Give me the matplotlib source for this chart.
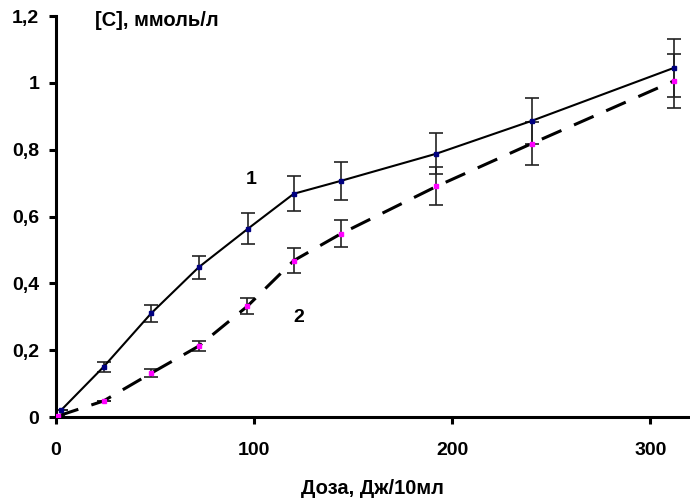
import matplotlib
matplotlib.use("Agg")
import matplotlib.pyplot as plt
from matplotlib.ticker import FuncFormatter

plt.rcParams['font.family'] = ['Liberation Sans', 'DejaVu Sans']

dose1 = [2.5, 24, 48, 72, 97, 120, 144, 192, 240, 312]
conc1 = [0.02, 0.15, 0.31, 0.448, 0.564, 0.668, 0.707, 0.788, 0.886, 1.045]
err1 = [0.0, 0.015, 0.025, 0.035, 0.045, 0.052, 0.057, 0.061, 0.07, 0.087]

dose2 = [1, 24, 48, 72, 96.5, 120, 144, 192, 240, 312]
conc2 = [0.003, 0.048, 0.131, 0.212, 0.331, 0.468, 0.549, 0.69, 0.818, 1.006]
err2 = [0.0, 0.0, 0.012, 0.015, 0.024, 0.038, 0.04, 0.057, 0.065, 0.08]

xticks = [0, 100, 200, 300]
yticks = [0, 0.2, 0.4, 0.6, 0.8, 1.0, 1.2]

fig = plt.figure(figsize=(6.9, 4.99), dpi=100)
ax = fig.add_axes([56/690, 82/499, 1 - 56/690, 401/499])

ax.errorbar(dose1, conc1, yerr=err1, fmt='none', ecolor='#222222', elinewidth=1.2,
            capsize=5, capthick=1.2, zorder=2)
ax.errorbar(dose2, conc2, yerr=err2, fmt='none', ecolor='#222222', elinewidth=1.2,
            capsize=5, capthick=1.2, zorder=2)
ax.plot(dose1, conc1, color='black', lw=1.5, zorder=3)
ax.plot(dose2, conc2, color='black', lw=2.2, dashes=(7, 4.5), zorder=3)
ax.plot(dose1, conc1, 's', color='#000080', ms=3, mec='#000080', zorder=4)
ax.plot(dose2, conc2, 's', color='#ff00ff', ms=3.2, mec='#ff00ff', zorder=4)

ax.set_xlim(0, 320)
ax.set_ylim(0, 1.2)
ax.set_xticks(xticks)
ax.set_yticks(yticks)

def yfmt(v, pos):
    s = ('%.1f' % v).rstrip('0').rstrip('.')
    return s.replace('.', ',')
ax.yaxis.set_major_formatter(FuncFormatter(yfmt))

for s in ['top', 'right']:
    ax.spines[s].set_visible(False)
for s in ['left', 'bottom']:
    ax.spines[s].set_linewidth(2.2)
ax.tick_params(axis='both', direction='out', length=5, width=2.2,
               labelsize=14, pad=7)
for lab in ax.get_xticklabels() + ax.get_yticklabels():
    lab.set_fontweight('bold')
ax.tick_params(axis='x', pad=13)

fig.text(251/690, 1 - 180/499, '1', fontsize=14, fontweight='bold', ha='center', va='center')
fig.text(299/690, 1 - 317/499, '2', fontsize=14, fontweight='bold', ha='center', va='center')
fig.text(95/690, 1 - 21/499, '[C], ммоль/л', fontsize=14.5, fontweight='bold', ha='left', va='center')
fig.text(372/690, 1 - 488/499, 'Доза, Дж/10мл', fontsize=14.5, fontweight='bold', ha='center', va='center')

fig.savefig('out.png', dpi=100)
